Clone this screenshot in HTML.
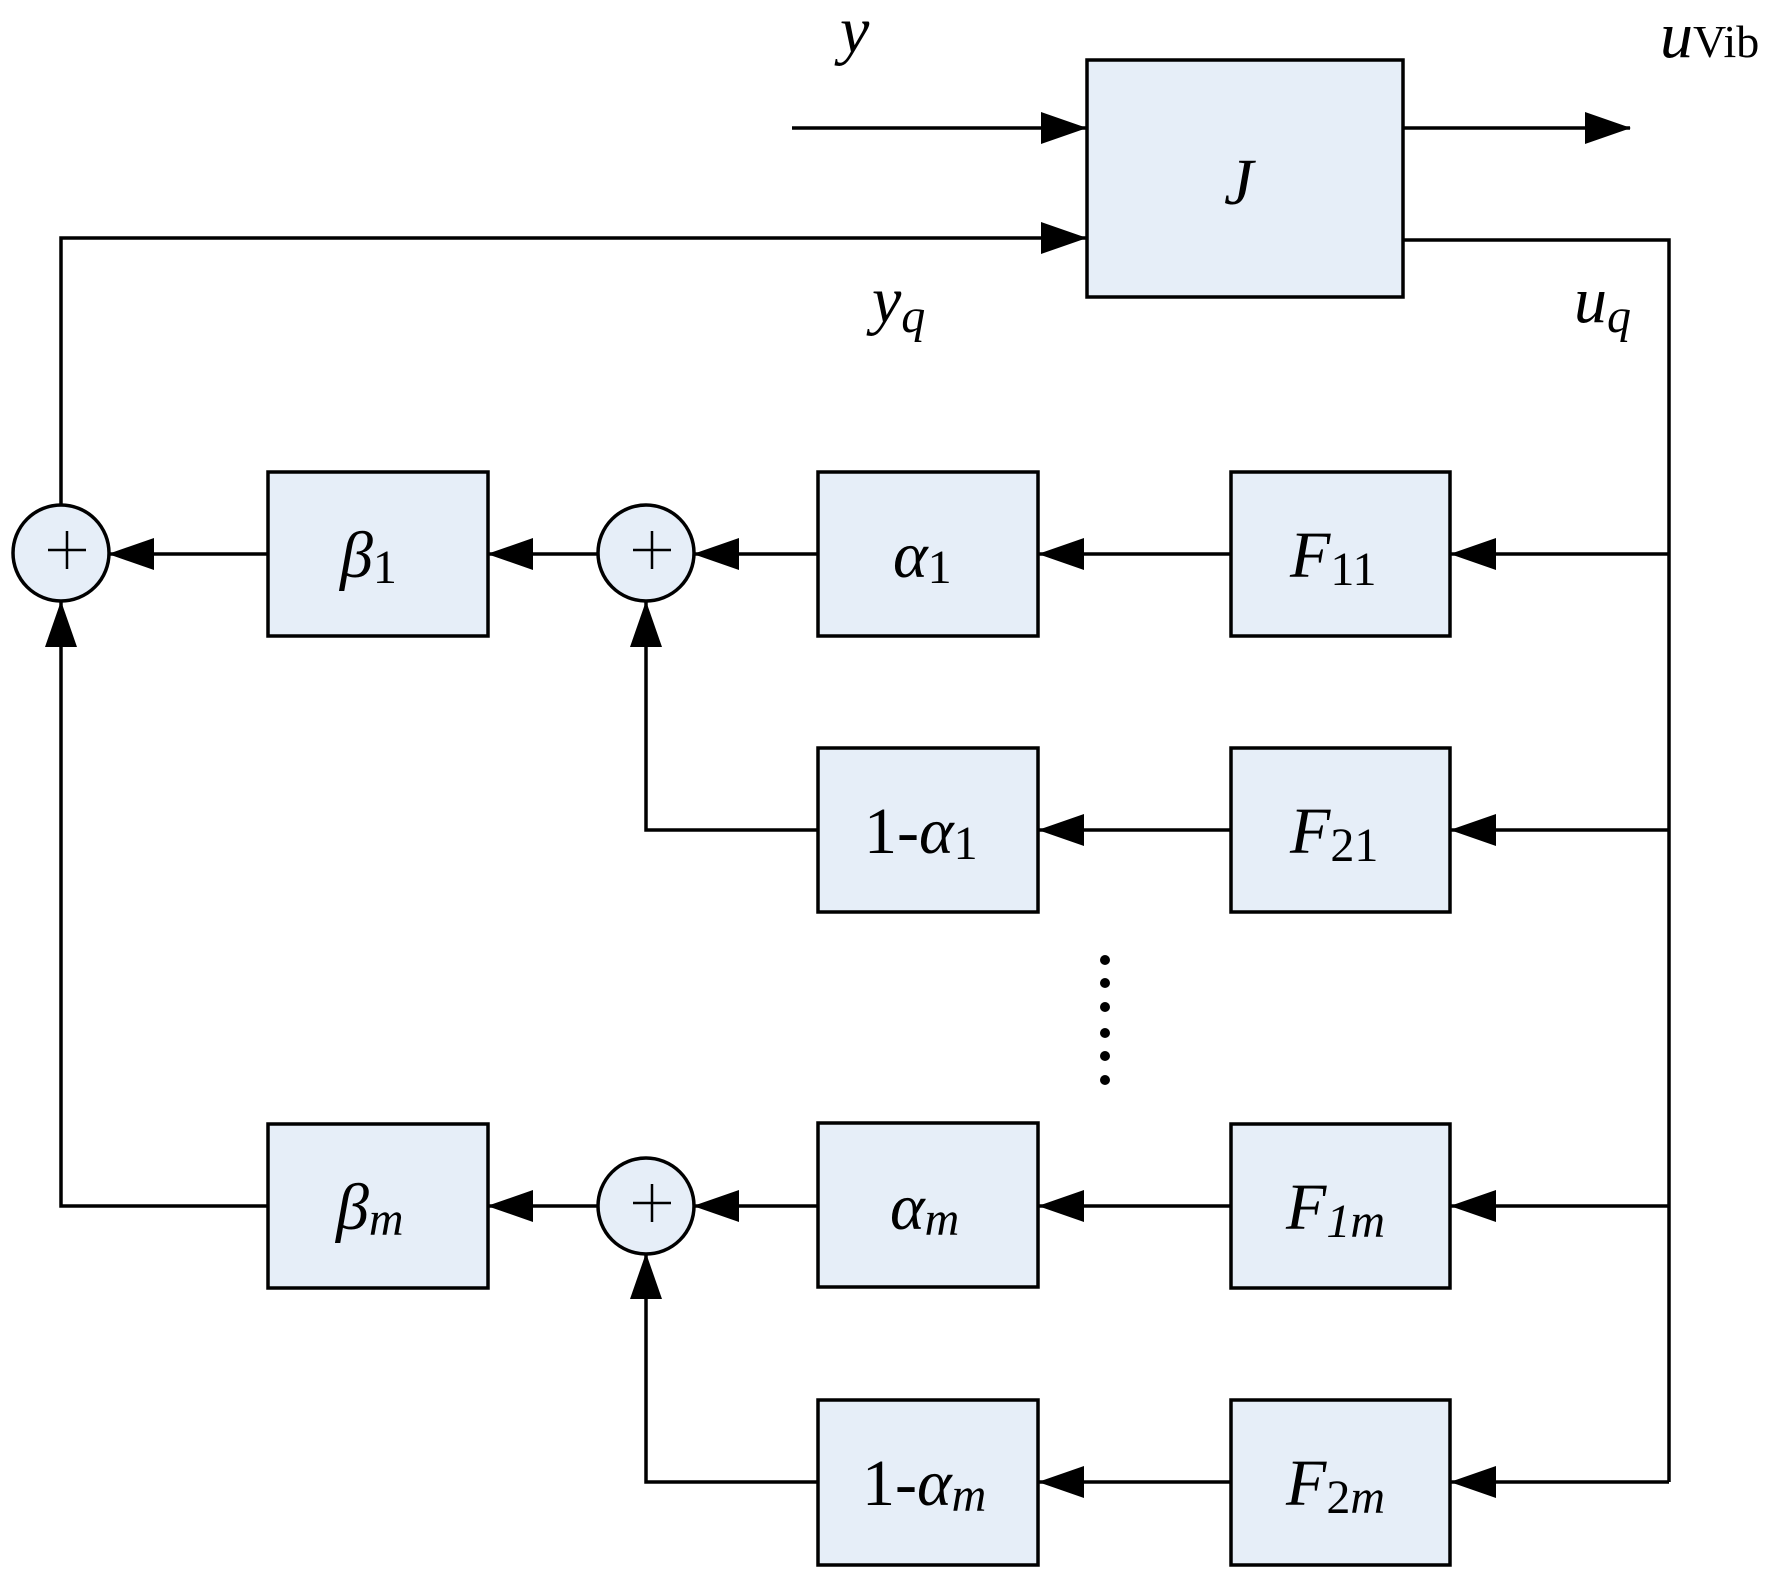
<!DOCTYPE html>
<html><head><style>
html,body{margin:0;padding:0;background:#fff;}
svg{display:block}
text{font-family:"Liberation Serif",serif;fill:#000}
</style></head><body>
<svg width="1775" height="1578" viewBox="0 0 1775 1578" xmlns="http://www.w3.org/2000/svg">
<defs>
<marker id="a" markerWidth="46" markerHeight="32" refX="45" refY="16" orient="auto" markerUnits="userSpaceOnUse">
<path d="M0,0 L46,16 L0,32 Z" fill="#000"/>
</marker>
</defs>
<g stroke="#000" stroke-width="3.5" fill="none">
<line x1="792" y1="128" x2="1086" y2="128" marker-end="url(#a)"/>
<line x1="1402" y1="128" x2="1630" y2="128" marker-end="url(#a)"/>
<polyline points="61,505 61,238 1086,238" marker-end="url(#a)"/>
<polyline points="1402,240 1669,240 1669,1482"/>
<line x1="1669" y1="554" x2="1451" y2="554" marker-end="url(#a)"/>
<line x1="1231" y1="554" x2="1039" y2="554" marker-end="url(#a)"/>
<line x1="818" y1="554" x2="694" y2="554" marker-end="url(#a)"/>
<line x1="598" y1="554" x2="488" y2="554" marker-end="url(#a)"/>
<line x1="268" y1="554" x2="109" y2="554" marker-end="url(#a)"/>
<line x1="1669" y1="830" x2="1451" y2="830" marker-end="url(#a)"/>
<line x1="1231" y1="830" x2="1039" y2="830" marker-end="url(#a)"/>
<polyline points="818,830 646,830 646,602" marker-end="url(#a)"/>
<line x1="1669" y1="1206" x2="1451" y2="1206" marker-end="url(#a)"/>
<line x1="1231" y1="1206" x2="1039" y2="1206" marker-end="url(#a)"/>
<line x1="818" y1="1206" x2="694" y2="1206" marker-end="url(#a)"/>
<line x1="598" y1="1206" x2="488" y2="1206" marker-end="url(#a)"/>
<polyline points="268,1206 61,1206 61,602" marker-end="url(#a)"/>
<line x1="1669" y1="1482" x2="1451" y2="1482" marker-end="url(#a)"/>
<line x1="1231" y1="1482" x2="1039" y2="1482" marker-end="url(#a)"/>
<polyline points="818,1482 646,1482 646,1254" marker-end="url(#a)"/>
</g>
<g stroke="#000" stroke-width="3.5" fill="#e6eef8">
<rect x="1087" y="60" width="316" height="237"/>
<rect x="268" y="472" width="220" height="164"/>
<rect x="818" y="472" width="220" height="164"/>
<rect x="1231" y="472" width="219" height="164"/>
<rect x="818" y="748" width="220" height="164"/>
<rect x="1231" y="748" width="219" height="164"/>
<rect x="268" y="1124" width="220" height="164"/>
<rect x="818" y="1123" width="220" height="164"/>
<rect x="1231" y="1124" width="219" height="164"/>
<rect x="818" y="1400" width="220" height="165"/>
<rect x="1231" y="1400" width="219" height="165"/>
<circle cx="61" cy="553" r="48"/>
<circle cx="646" cy="553" r="48"/>
<circle cx="646" cy="1206" r="48"/>
</g>
<g stroke="#000" stroke-width="2.5">
<line x1="48" y1="550" x2="86" y2="550"/><line x1="67" y1="531" x2="67" y2="569"/>
<line x1="633" y1="550" x2="671" y2="550"/><line x1="652" y1="531" x2="652" y2="569"/>
<line x1="633" y1="1203" x2="671" y2="1203"/><line x1="652" y1="1184" x2="652" y2="1222"/>
</g>
<g fill="#000">
<circle cx="1105" cy="960" r="5"/><circle cx="1105" cy="983" r="5"/><circle cx="1105" cy="1007" r="5"/>
<circle cx="1105" cy="1033" r="5"/><circle cx="1105" cy="1056" r="5"/><circle cx="1105" cy="1080" r="5"/>
</g>
<g font-size="66">
<text x="840" y="52" font-style="italic">y</text>
<text x="1660" y="57" font-style="italic">u<tspan font-style="normal" font-size="46">Vib</tspan></text>
<text x="872" y="322" font-style="italic">y<tspan font-size="48" dy="10">q</tspan></text>
<text x="1574" y="322" font-style="italic">u<tspan font-size="48" dy="10">q</tspan></text>
<text x="1224" y="204" font-style="italic">J</text>
<text x="340" y="577" font-style="italic">β<tspan font-style="normal" font-size="48" dy="6">1</tspan></text>
<text x="893" y="577" font-style="italic">α<tspan font-style="normal" font-size="48" dy="6">1</tspan></text>
<text x="1290" y="577" font-style="italic">F<tspan font-style="normal" font-size="48" dy="8">11</tspan></text>
<text x="864" y="853">1-<tspan font-style="italic">α</tspan><tspan font-size="48" dy="6">1</tspan></text>
<text x="1290" y="853" font-style="italic">F<tspan font-style="normal" font-size="48" dy="8">21</tspan></text>
<text x="336" y="1229" font-style="italic">β<tspan font-size="48" dy="6">m</tspan></text>
<text x="890" y="1229" font-style="italic">α<tspan font-size="48" dy="6">m</tspan></text>
<text x="1286" y="1229" font-style="italic">F<tspan font-size="48" dy="8">1m</tspan></text>
<text x="862" y="1505">1-<tspan font-style="italic">α</tspan><tspan font-style="italic" font-size="48" dy="6">m</tspan></text>
<text x="1286" y="1505" font-style="italic">F<tspan font-style="normal" font-size="48" dy="8">2<tspan font-style="italic">m</tspan></tspan></text>
</g>
</svg>
</body></html>
